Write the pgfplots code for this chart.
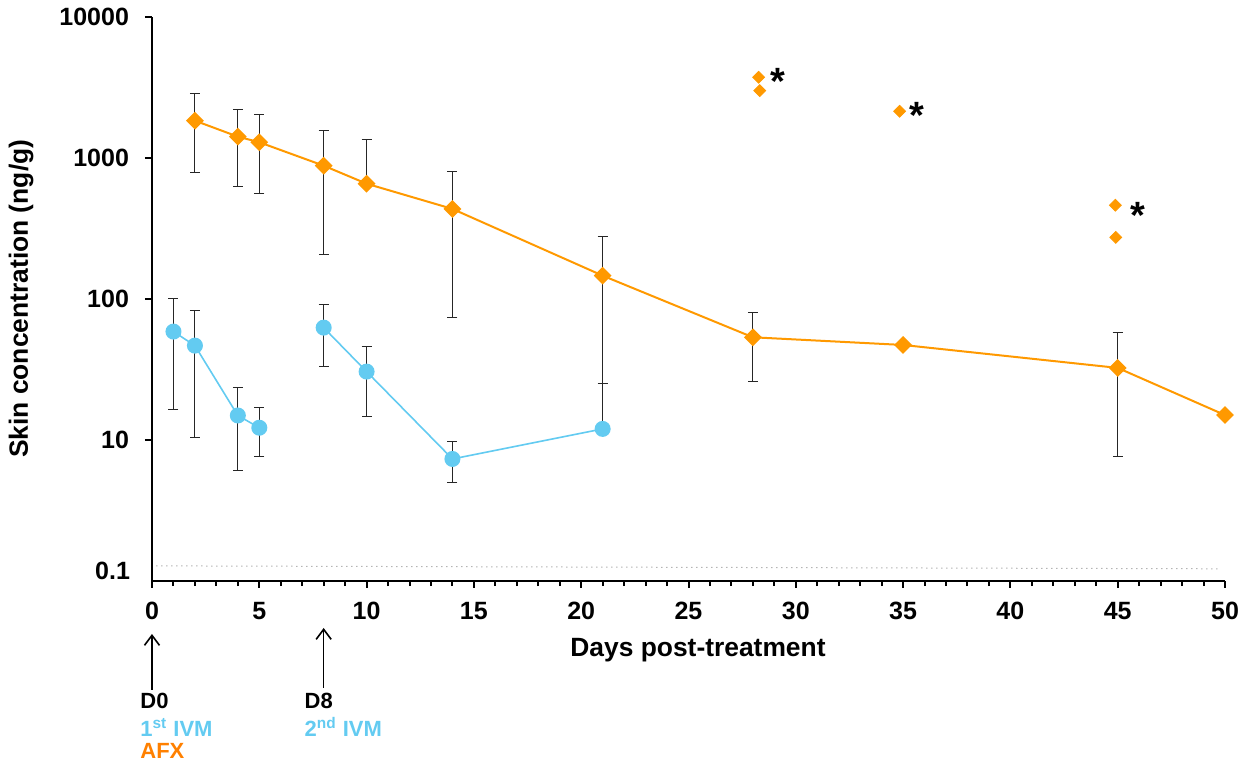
\documentclass[border=0pt]{standalone}
\usepackage{fontspec}
\setmainfont{Liberation Sans}
\usepackage{pgfplots}
\pgfplotsset{compat=1.18}
\usetikzlibrary{arrows.meta}
\definecolor{afx}{RGB}{255,153,0}
\definecolor{afxtext}{RGB}{255,128,0}
\definecolor{ivm}{RGB}{99,203,241}
\pgfplotsset{myerr/.style={error bars/.cd, y dir=both, y explicit,
  error bar style={line width=0.5pt, black!85, solid},
  error mark=-,
  error mark options={rotate=90, black!85, line width=0.5pt, mark size=2.5pt, solid}}}
\begin{document}
\begin{tikzpicture}
\begin{axis}[
  scale only axis, width=536.5pt, height=282.15pt,
  xmin=0, xmax=50, ymode=log, ymin=1, ymax=10000,
  axis x line*=bottom, axis y line*=left,
  axis line style={-, line width=1pt, black},
  xtick={0,5,...,50}, minor xtick={0,1,...,50},
  ytick={10,100,1000,10000},
  yticklabels={10,100,1000,10000},
  yminorticks=false,
  extra y ticks={1}, extra y tick labels={0.1},
  extra y tick style={major tick length=0pt, yticklabel style={yshift=5pt, xshift=-3pt}},
  tick align=outside, major tick length=3.5pt, minor tick length=2.6pt,
  tick style={line width=1pt, black},
  /pgf/number format/assume math mode=true,
  tick label style={font=\fontsize{12.5}{14}\selectfont\bfseries},
  xticklabel style={yshift=-3.5pt},
  yticklabel style={xshift=-4.5pt},
  xlabel={Days post-treatment},
  ylabel={Skin concentration (ng/g)},
  every axis x label/.style={at={([yshift=-38pt, xshift=4.75pt]axis description cs:0.5,0)}, anchor=base, font=\fontsize{13.2}{15}\selectfont\bfseries},
  every axis y label/.style={at={([xshift=-65.5pt]axis description cs:0,0.5)}, rotate=90, anchor=center, font=\fontsize{13.2}{15}\selectfont\bfseries},
  clip=false,
]
% LOQ dotted line
\addplot[black!45, dotted, line width=0.5pt] coordinates {(0.2,1.28) (49.8,1.22)};

% AFX
\addplot[afx, line width=1pt, mark=square*, mark size=2.65pt,
  mark options={rotate=45, fill=afx, draw=afx, solid}, myerr]
  table[x=x, y=y, y error plus=ep, y error minus=em] {
x y ep em
2 1832 1046 1052
4 1412 794 788
5 1288 733 734
8 879 677 673
10 655 689 0
14 434 359 360
21 146 132 121
28 53.4 27.0 27.5
35 47.1 0 0
45 32.4 25.2 24.8
50 15.0 0 0
};

% IVM first dose
\addplot[ivm, line width=0.8pt, mark=*, mark size=3.6pt,
  mark options={fill=ivm, draw=ivm, solid}, myerr]
  table[x=x, y=y, y error plus=ep, y error minus=em] {
x y ep em
1 58.6 41.7 42.3
2 46.6 35.9 36.2
4 14.9 8.7 8.8
5 12.2 4.7 4.6
};

% IVM second dose
\addplot[ivm, line width=0.8pt, mark=*, mark size=3.6pt,
  mark options={fill=ivm, draw=ivm, solid}, myerr]
  table[x=x, y=y, y error plus=ep, y error minus=em] {
x y ep em
8 62.5 29.1 29.6
10 30.5 15.3 15.9
14 7.33 2.35 2.35
21 11.97 13.2 0
};

% isolated AFX values
\addplot[only marks, mark=square*, mark size=2.1pt,
  mark options={rotate=45, fill=afx, draw=afx}]
  coordinates {(28.27,3720) (28.32,2989) (34.84,2136) (44.89,461) (44.91,273)};

% asterisks
\node[font=\fontsize{19}{19}\selectfont\bfseries, anchor=base, yshift=-10.8pt, inner sep=0pt] at (axis cs:29.16,3970) {*};
\node[font=\fontsize{19}{19}\selectfont\bfseries, anchor=base, yshift=-10.8pt, inner sep=0pt] at (axis cs:35.62,2280) {*};
\node[font=\fontsize{19}{19}\selectfont\bfseries, anchor=base, yshift=-9.5pt, inner sep=0pt] at (axis cs:45.92,431) {*};

% arrows and treatment annotations
\draw[line width=0.8pt, -{Straight Barb[length=5pt, width=7.5pt]}] ([yshift=-54.5pt]axis cs:0,1) -- ([yshift=-26.5pt]axis cs:0,1);
\draw[line width=0.8pt, -{Straight Barb[length=5pt, width=7.5pt]}] ([yshift=-53.5pt]axis cs:8,1) -- ([yshift=-23.5pt]axis cs:8,1);
\node[anchor=base west, inner sep=0pt, font=\fontsize{11}{12}\selectfont\bfseries] at ([xshift=-6pt, yshift=-63.7pt]axis cs:0,1) {D0};
\node[anchor=base west, inner sep=0pt, font=\fontsize{11}{12}\selectfont\bfseries, text=ivm] at ([xshift=-6pt, yshift=-77.8pt]axis cs:0,1) {1\textsuperscript{st} IVM};
\node[anchor=base west, inner sep=0pt, font=\fontsize{11}{12}\selectfont\bfseries, text=afxtext] at ([xshift=-6pt, yshift=-88.7pt]axis cs:0,1) {AFX};
\node[anchor=base west, inner sep=0pt, font=\fontsize{11}{12}\selectfont\bfseries] at ([xshift=-9.7pt, yshift=-64pt]axis cs:8,1) {D8};
\node[anchor=base west, inner sep=0pt, font=\fontsize{11}{12}\selectfont\bfseries, text=ivm] at ([xshift=-9.7pt, yshift=-77.8pt]axis cs:8,1) {2\textsuperscript{nd} IVM};
\end{axis}
\pgfresetboundingbox
\path[use as bounding box] (-76pt,-94.5pt) rectangle (551pt,290.5pt);
\end{tikzpicture}
\end{document}
